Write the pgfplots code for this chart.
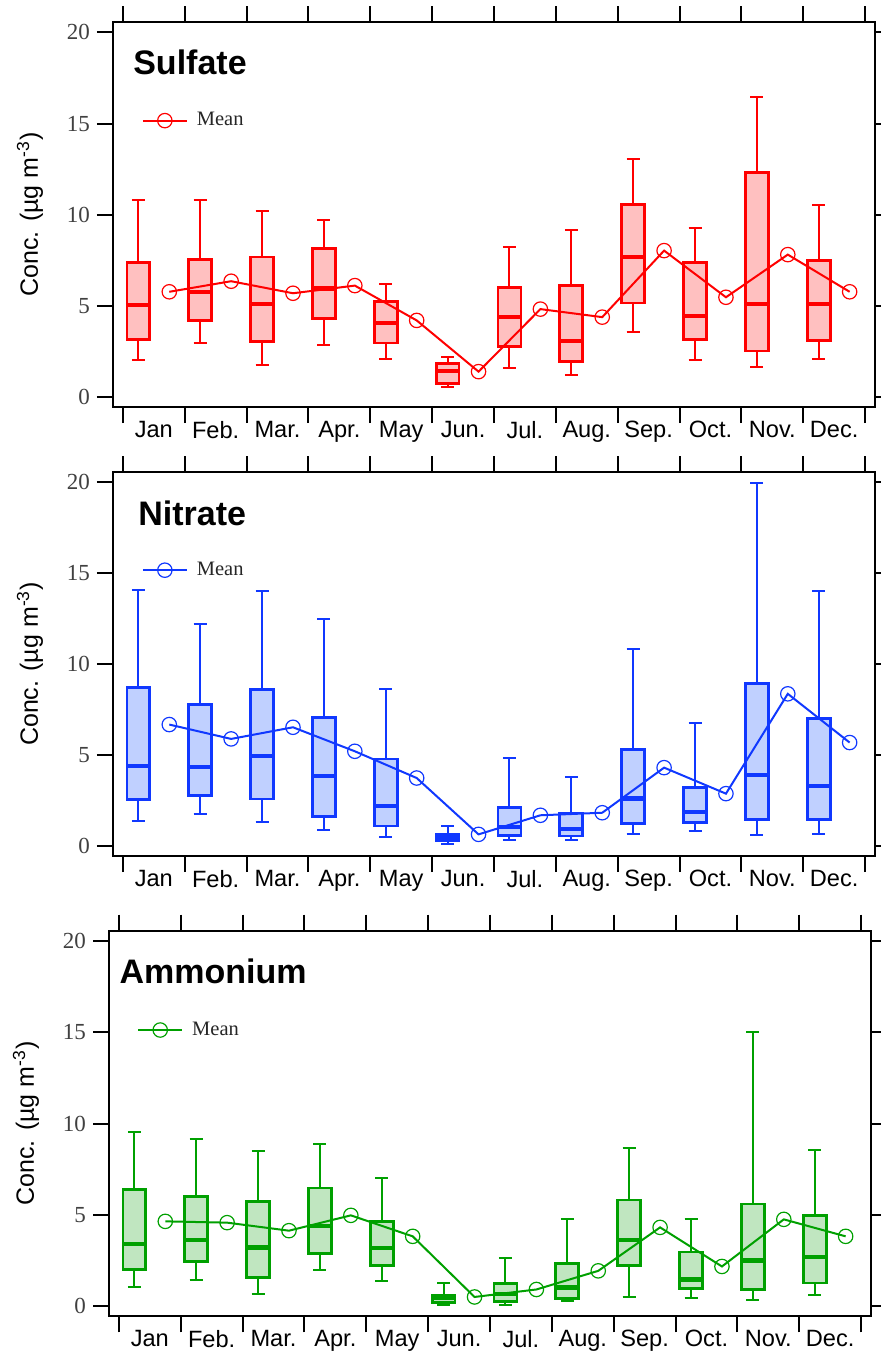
\documentclass[border=0pt]{standalone}
\usepackage{fontspec}
\setmainfont{Liberation Sans}
\newfontfamily\timesf{Liberation Serif}
\usepackage{pgfplots}
\usepackage{pgfplotstable}
\usepgfplotslibrary{statistics}
\pgfplotsset{compat=1.18}

\definecolor{sred}{RGB}{255,0,0}
\definecolor{sredf}{RGB}{255,192,192}
\definecolor{nblue}{RGB}{16,56,255}
\definecolor{nbluef}{RGB}{192,208,255}
\definecolor{agreen}{RGB}{0,160,0}
\definecolor{agreenf}{RGB}{192,230,192}

\pgfplotstableread{
m lw q1 med q3 uw mean
0 2.05 3.14 5.04 7.36 10.78 5.77
1 2.94 4.18 5.77 7.55 10.78 6.35
2 1.77 3.03 5.11 7.68 10.22 5.69
3 2.87 4.31 5.95 8.14 9.71 6.11
4 2.10 2.96 4.07 5.22 6.20 4.20
5 0.57 0.75 1.41 1.83 2.21 1.39
6 1.57 2.76 4.38 6.00 8.21 4.82
7 1.19 1.94 3.09 6.13 9.18 4.38
8 3.58 5.15 7.66 10.56 13.05 8.03
9 2.03 3.14 4.46 7.36 9.29 5.47
10 1.64 2.52 5.09 12.32 16.47 7.81
11 2.10 3.09 5.09 7.48 10.53 5.77
}\sul

\pgfplotstableread{
m lw q1 med q3 uw mean
0 1.39 2.57 4.42 8.70 14.07 6.68
1 1.78 2.79 4.35 7.78 12.22 5.89
2 1.34 2.59 4.95 8.62 14.02 6.53
3 0.88 1.61 3.83 7.06 12.48 5.21
4 0.50 1.10 2.22 4.79 8.64 3.74
5 0.12 0.30 0.48 0.62 1.10 0.64
6 0.31 0.59 1.05 2.13 4.83 1.69
7 0.31 0.55 0.95 1.82 3.78 1.83
8 0.68 1.23 2.61 5.30 10.84 4.31
9 0.81 1.28 1.87 3.21 6.75 2.88
10 0.61 1.47 3.91 8.94 19.94 8.37
11 0.68 1.47 3.32 7.01 14.02 5.69
}\nit

\pgfplotstableread{
m lw q1 med q3 uw mean
0 1.06 2.00 3.41 6.41 9.54 4.65
1 1.45 2.45 3.63 6.03 9.14 4.58
2 0.66 1.59 3.22 5.75 8.50 4.14
3 2.01 2.91 4.41 6.48 8.88 4.98
4 1.39 2.25 3.17 4.63 7.01 3.83
5 0.09 0.22 0.44 0.62 1.25 0.51
6 0.09 0.24 0.66 1.23 2.66 0.92
7 0.29 0.44 1.03 2.34 4.80 1.94
8 0.53 2.23 3.64 5.82 8.68 4.32
9 0.48 0.97 1.47 2.97 4.80 2.18
10 0.37 0.90 2.51 5.60 15.02 4.76
11 0.60 1.28 2.71 4.98 8.57 3.83
}\amm

% one prepared box per table row
\newcommand\boxrow[4]{%
  \pgfplotstablegetelem{#2}{lw}\of#1\edef\vlw{\pgfplotsretval}%
  \pgfplotstablegetelem{#2}{q1}\of#1\edef\vqa{\pgfplotsretval}%
  \pgfplotstablegetelem{#2}{med}\of#1\edef\vmed{\pgfplotsretval}%
  \pgfplotstablegetelem{#2}{q3}\of#1\edef\vqc{\pgfplotsretval}%
  \pgfplotstablegetelem{#2}{uw}\of#1\edef\vuw{\pgfplotsretval}%
  \edef\doplot{\noexpand\addplot[forget plot, draw=#3, fill=#4, solid,
    boxplot prepared={draw position=#2.25, lower whisker=\vlw, lower quartile=\vqa,
      median=\vmed, upper quartile=\vqc, upper whisker=\vuw,
      box extend=0.37, whisker extend=0.21}] coordinates {};}%
  \doplot}

\pgfplotsset{
  panel/.style={
    scale only axis, width=381pt,
    xmin=-0.16, xmax=12.16, ymin=-0.55, ymax=20.57,
    xtick={0,...,12}, x tick label as interval,
    xticklabels={Jan,Feb.,Mar.,Apr.,May,Jun.,Jul.,Aug.,Sep.,Oct.,Nov.,Dec.},
    ytick={0,5,10,15,20},
    tick align=outside, xtick pos=both, ytick pos=both,
    xticklabel pos=lower, yticklabel pos=left,
    major tick length=8pt,
    tick style={black, line width=1pt},
    axis line style={line width=1pt},
    xticklabel style={font=\fontsize{11.8}{13}\selectfont, yshift=4.5pt},
    yticklabel style={font=\timesf\fontsize{11.5}{13}\selectfont, text=black!75},
    /pgf/number format/assume math mode=true,
    ylabel={Conc. (µg m\textsuperscript{-3})},
    ylabel style={at={(axis description cs:-0.109,0.5)}, anchor=center, font=\fontsize{12.5}{14}\selectfont},
    boxplot/draw direction=y,
    boxplot/every median/.style={line width=2.1pt},
    boxplot/every whisker/.style={line width=1pt},
    boxplot/every box/.style={line width=1.4pt},
    legend style={draw=none, fill=none, inner sep=0pt, font=\timesf\fontsize{10.25}{12}\selectfont, text=black!85},
    legend image code/.code={\draw[mark repeat=2, mark phase=2, ##1] plot coordinates {(0pt,0pt) (11pt,0pt) (22pt,0pt)};},
  }
}

\begin{document}
\begin{tikzpicture}
\useasboundingbox (0,0) rectangle (440.5pt,-677pt);

% Sulfate
\begin{axis}[panel, height=192.5pt, at={(56.5pt,-203.5pt)}, anchor=south west,
  legend style={at={(axis cs:0.30,15.16)}, anchor=west}]
\pgfplotsinvokeforeach{0,...,11}{\boxrow{\sul}{#1}{sred}{sredf}}
\addplot[sred, line width=1pt, mark=o, mark size=3.6pt, mark options={line width=0.6pt}]
  table[x expr=\thisrow{m}+0.75, y=mean] {\sul};
\addlegendentry{\hspace{2.5pt}Mean}
\node[anchor=base west, inner sep=0pt, font=\bfseries\fontsize{17}{20}\selectfont] at (axis cs:0.162,17.70) {Sulfate};
\end{axis}

% Nitrate
\begin{axis}[panel, height=192pt, at={(56.5pt,-428pt)}, anchor=south west,
  legend style={at={(axis cs:0.30,15.17)}, anchor=west}]
\pgfplotsinvokeforeach{0,...,11}{\boxrow{\nit}{#1}{nblue}{nbluef}}
\addplot[nblue, line width=1pt, mark=o, mark size=3.6pt, mark options={line width=0.6pt}]
  table[x expr=\thisrow{m}+0.75, y=mean] {\nit};
\addlegendentry{\hspace{2.5pt}Mean}
\node[anchor=base west, inner sep=0pt, font=\bfseries\fontsize{17}{20}\selectfont] at (axis cs:0.243,17.65) {Nitrate};
\end{axis}

% Ammonium
\begin{axis}[panel, height=192.8pt, at={(54.5pt,-658.15pt)}, anchor=south west,
  legend style={at={(axis cs:0.29,15.13)}, anchor=west}]
\pgfplotsinvokeforeach{0,...,11}{\boxrow{\amm}{#1}{agreen}{agreenf}}
\addplot[agreen, line width=1pt, mark=o, mark size=3.6pt, mark options={line width=0.6pt}]
  table[x expr=\thisrow{m}+0.75, y=mean] {\amm};
\addlegendentry{\hspace{2.5pt}Mean}
\node[anchor=base west, inner sep=0pt, font=\bfseries\fontsize{17}{20}\selectfont] at (axis cs:0.006,17.69) {Ammonium};
\end{axis}
\end{tikzpicture}
\end{document}
